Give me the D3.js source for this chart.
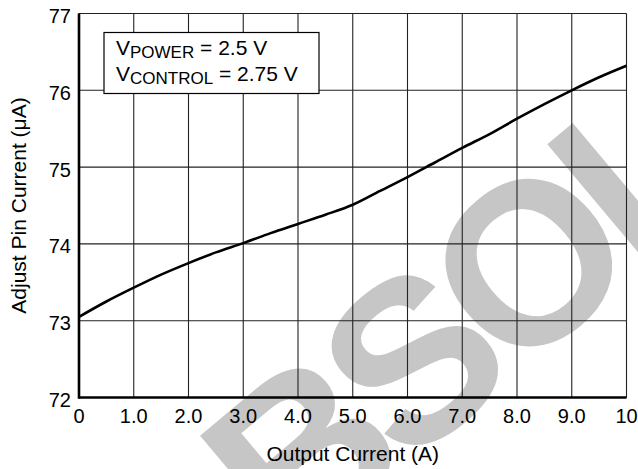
<!DOCTYPE html>
<html>
<head>
<meta charset="utf-8">
<script src="https://cdn.jsdelivr.net/npm/d3@7"></script>
<style>
  body { margin: 0; background: #fff; }
  svg text { font-family: "Liberation Sans", Arial, Helvetica, sans-serif; fill: #000; }
</style>
</head>
<body>
<svg id="chart" width="638" height="469"></svg>
<script>
// output current (A) and adjust pin current (uA)
const outputCurrent = [0, 0.5, 1, 1.5, 2, 2.5, 3, 3.5, 4, 4.5, 5, 5.5, 6, 6.5, 7, 7.5, 8, 8.5, 9, 9.5, 10];
const adjustCurrent = [73.05, 73.25, 73.43, 73.6, 73.75, 73.89, 74.01, 74.14, 74.26, 74.38, 74.51, 74.69, 74.87, 75.06, 75.25, 75.43, 75.63, 75.82, 76.0, 76.17, 76.32];

const xTicks = [0, 1, 2, 3, 4, 5, 6, 7, 8, 9, 10];
const xTickLabels = ['0', '1.0', '2.0', '3.0', '4.0', '5.0', '6.0', '7.0', '8.0', '9.0', '10'];
const yTicks = [72, 73, 74, 75, 76, 77];

const margin = { top: 13.5, right: 11.5, bottom: 71.5, left: 79 };
const width = 638, height = 469;

const svg = d3.select('#chart');

// faint watermark behind the chart
const wm = svg.append('g').attr('transform', 'translate(435, 338) rotate(-40)');
wm.append('text')
  .attr('x', -422)
  .attr('y', 82)
  .style('font-size', '230px')
  .style('font-weight', 'bold')
  .style('letter-spacing', '-15px')
  .style('fill', '#c6c6c6')
  .text('OBSOLETE');

const x = d3.scaleLinear().domain([0, 10]).range([margin.left, width - margin.right]);
const y = d3.scaleLinear().domain([72, 77]).range([height - margin.bottom, margin.top]);

// grid
svg.append('g')
  .selectAll('line')
  .data(xTicks)
  .enter()
  .append('line')
  .attr('x1', (d) => x(d)).attr('x2', (d) => x(d))
  .attr('y1', y(72)).attr('y2', y(77))
  .attr('stroke', '#222').attr('stroke-width', 1.1);

svg.append('g')
  .selectAll('line')
  .data(yTicks)
  .enter()
  .append('line')
  .attr('x1', x(0)).attr('x2', x(10))
  .attr('y1', (d) => y(d)).attr('y2', (d) => y(d))
  .attr('stroke', '#222').attr('stroke-width', 1.1);

// heavier left and bottom axes
svg.append('line')
  .attr('x1', x(0)).attr('x2', x(0)).attr('y1', y(72) + 1.2).attr('y2', y(77))
  .attr('stroke', '#000').attr('stroke-width', 2.6);
svg.append('line')
  .attr('x1', x(0)).attr('x2', x(10)).attr('y1', y(72)).attr('y2', y(72))
  .attr('stroke', '#000').attr('stroke-width', 2.4);

// tick labels
svg.append('g')
  .selectAll('text')
  .data(xTicks)
  .enter()
  .append('text')
  .attr('x', (d) => x(d))
  .attr('y', 423)
  .attr('text-anchor', 'middle')
  .style('font-size', '20px')
  .text((d, i) => xTickLabels[i]);

svg.append('g')
  .selectAll('text')
  .data(yTicks)
  .enter()
  .append('text')
  .attr('x', 71)
  .attr('y', (d) => y(d) + 9.5)
  .attr('text-anchor', 'end')
  .style('font-size', '20px')
  .text((d) => d);

// axis titles
svg.append('text')
  .attr('x', (x(0) + x(10)) / 2)
  .attr('y', 461)
  .attr('text-anchor', 'middle')
  .style('font-size', '21px')
  .text('Output Current (A)');

svg.append('text')
  .attr('transform', 'translate(26, ' + (y(72) + y(77)) / 2 + ') rotate(-90)')
  .attr('text-anchor', 'middle')
  .style('font-size', '21px')
  .text('Adjust Pin Current (\u03bcA)');

// curve
const line = d3.line()
  .x((d) => x(d[0]))
  .y((d) => y(d[1]))
  .curve(d3.curveMonotoneX);

svg.append('path')
  .datum(outputCurrent.map((v, i) => [v, adjustCurrent[i]]))
  .attr('d', line)
  .attr('fill', 'none')
  .attr('stroke', '#000')
  .attr('stroke-width', 2.6);

// conditions box
svg.append('rect')
  .attr('x', 104).attr('y', 32.5)
  .attr('width', 215).attr('height', 61)
  .attr('fill', '#fff')
  .attr('stroke', '#000').attr('stroke-width', 1.2);

const conds = [
  { sub: 'POWER', value: ' = 2.5 V', baseline: 55 },
  { sub: 'CONTROL', value: ' = 2.75 V', baseline: 81 },
];
conds.forEach((c) => {
  const t = svg.append('text')
    .attr('x', 116)
    .attr('y', c.baseline)
    .style('font-size', '21px');
  t.append('tspan').text('V');
  t.append('tspan').attr('dy', 3).style('font-size', '17px').text(c.sub);
  t.append('tspan').attr('dy', -3).text(c.value);
});
</script>
</body>
</html>
